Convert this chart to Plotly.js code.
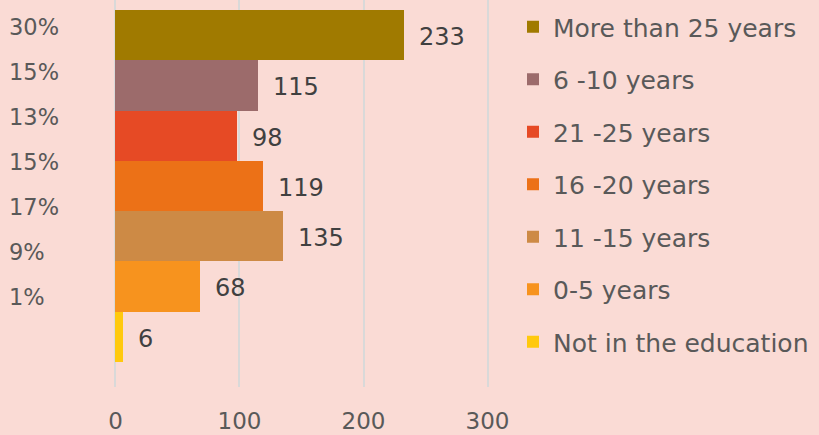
<!DOCTYPE html>
<html>
<head>
<meta charset="utf-8">
<script src="https://cdn.plot.ly/plotly-3.0.1.min.js"></script>
<style>html,body{margin:0;padding:0;background:#FADBD5;}#chart{width:819px;height:435px;}</style>
</head>
<body>
<div id="chart"></div>
<script>
// ---- data ----
const seriesNames = ["More than 25 years", "6 -10 years", "21 -25 years", "16 -20 years", "11 -15 years", "0-5 years", "Not in the education"];
const seriesValues = [233, 115, 98, 119, 135, 68, 6];
const percentLabels = ["30%", "15%", "13%", "15%", "17%", "9%", "1%"];
const xTickValues = [0, 100, 200, 300];
const seriesColors = ["#A07A00", "#9C6B6B", "#E64A25", "#EC7117", "#CD8A45", "#F7931E", "#FFC90E"];

// ---- layout constants ----
const W = 819, H = 435;
const M = {l: 113, r: 329, t: 0, b: 48};
const plotH = H - M.t - M.b;
const plotW = W - M.l - M.r;
const textColor = "#595959";
const fontFam = "DejaVu Sans, sans-serif";

const traces = seriesNames.map((n, i) => ({
  type: "bar",
  orientation: "h",
  name: n,
  legendgroup: n,
  x: [seriesValues[i]],
  y: [n],
  marker: {color: seriesColors[i]},
  hoverinfo: "x+name"
}));

const annotations = [];
seriesNames.forEach((n, i) => {
  annotations.push({
    x: seriesValues[i], y: n, xref: "x", yref: "y",
    text: String(seriesValues[i]), showarrow: false,
    xanchor: "left", yanchor: "middle", xshift: 13, yshift: -2,
    font: {family: fontFam, size: 24, color: "#404040"}
  });
});
percentLabels.forEach((t, i) => {
  annotations.push({
    xref: "paper", yref: "paper",
    x: (7 - M.l) / plotW, y: 1 - (27 + 45 * i) / plotH,
    text: t, showarrow: false, xanchor: "left", yanchor: "middle",
    font: {family: fontFam, size: 22.5, color: textColor}
  });
});

const layout = {
  width: W, height: H,
  margin: M,
  paper_bgcolor: "#FADBD5",
  plot_bgcolor: "#FADBD5",
  barmode: "stack",
  bargap: 0,
  showlegend: true,
  font: {family: fontFam, size: 23, color: textColor},
  xaxis: {
    range: [-2, 302],
    tickvals: xTickValues,
    ticktext: xTickValues.map(String),
    showgrid: true, gridcolor: "#D9D9D9", gridwidth: 2,
    zeroline: true, zerolinecolor: "#D9D9D9", zerolinewidth: 2,
    showline: false, ticks: "",
    ticklabelstandoff: 18,
    tickfont: {family: fontFam, size: 23, color: textColor},
    fixedrange: true
  },
  yaxis: {
    type: "category",
    categoryorder: "array", categoryarray: seriesNames,
    range: [7.0, -0.7],
    showticklabels: false, showgrid: false, zeroline: false, showline: false, ticks: "",
    fixedrange: true
  },
  legend: {
    x: (513 - M.l) / plotW, xanchor: "left",
    y: 1 - 4 / plotH, yanchor: "top",
    traceorder: "grouped",
    tracegroupgap: 17,
    bgcolor: "rgba(0,0,0,0)",
    font: {family: fontFam, size: 25, color: textColor}
  },
  annotations: annotations
};

Plotly.newPlot("chart", traces, layout, {displayModeBar: false, staticPlot: true});
</script>
</body>
</html>
